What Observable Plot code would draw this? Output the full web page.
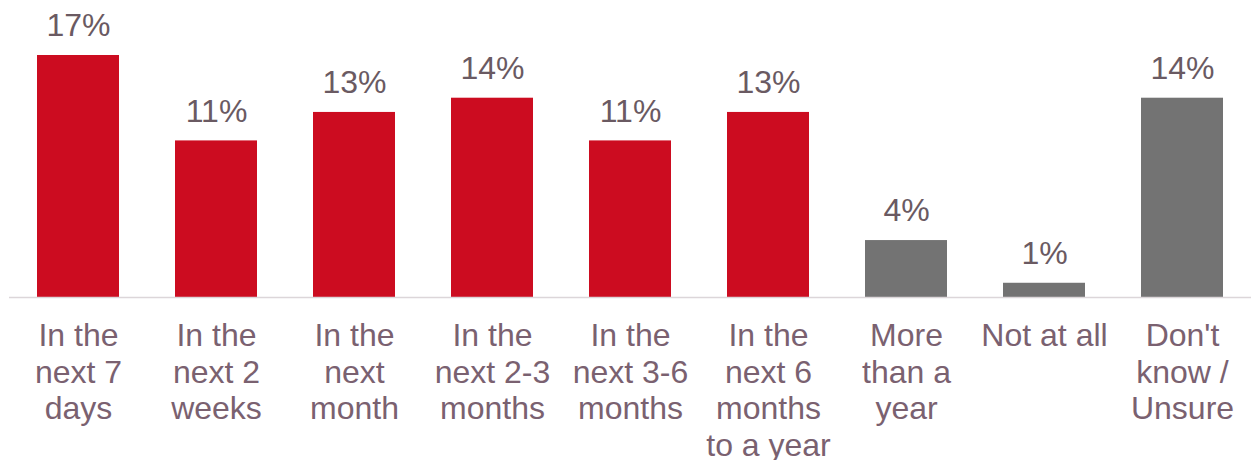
<!DOCTYPE html>
<html>
<head>
<meta charset="utf-8">
<script src="https://cdn.jsdelivr.net/npm/d3@7"></script>
<script src="https://cdn.jsdelivr.net/npm/@observablehq/plot@0.6"></script>
<style>
  html, body { margin: 0; padding: 0; background: #fff; }
  #chart { width: 1254px; height: 460px; }
</style>
</head>
<body>
<div id="chart"></div>
<script>
const categories = [
  "In the\nnext 7\ndays",
  "In the\nnext 2\nweeks",
  "In the\nnext\nmonth",
  "In the\nnext 2-3\nmonths",
  "In the\nnext 3-6\nmonths",
  "In the\nnext 6\nmonths\nto a year",
  "More\nthan a\nyear",
  "Not at all",
  "Don't\nknow /\nUnsure"
];
const values = [17, 11, 13, 14, 11, 13, 4, 1, 14];
const groups = ["timed", "timed", "timed", "timed", "timed", "timed", "other", "other", "other"];
const valueLabels = ["17%", "11%", "13%", "14%", "11%", "13%", "4%", "1%", "14%"];

const data = categories.map((c, i) => ({cat: c, value: values[i], group: groups[i], label: valueLabels[i]}));

const chart = Plot.plot({
  width: 1254,
  height: 460,
  marginLeft: 9,
  marginRight: 3,
  marginTop: 55,
  marginBottom: 163,
  style: {fontFamily: "'Liberation Sans', Arial, sans-serif", background: "#fff"},
  x: {domain: categories, paddingInner: 0.406, paddingOuter: 0.203, axis: null},
  y: {domain: [0, 17], axis: null},
  color: {domain: ["timed", "other"], range: ["#cc0c20", "#737373"]},
  marks: [
    Plot.barY(data, {x: "cat", y: "value", fill: "group"}),
    Plot.ruleY([0], {stroke: "#dcd6d9", strokeWidth: 1.5}),
    Plot.text(data, {x: "cat", y: "value", text: "label", lineAnchor: "top", dy: -42, fontSize: 32, fill: "#6a5a62"}),
    Plot.text(data, {x: "cat", y: 0, text: "cat", lineAnchor: "top", dy: 23, fontSize: 32, lineHeight: 1.14, fill: "#7a6170"})
  ]
});
document.getElementById("chart").appendChild(chart);
</script>
</body>
</html>
